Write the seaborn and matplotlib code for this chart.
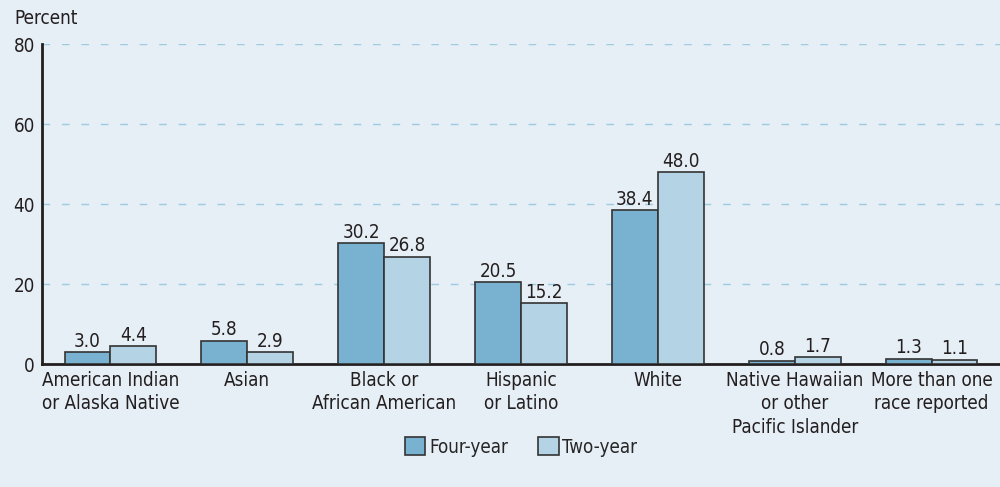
import matplotlib
matplotlib.use("Agg")
import matplotlib.pyplot as plt
import pandas as pd
import seaborn as sns

# --- Data -----------------------------------------------------------------
categories = [
    "American Indian\nor Alaska Native",
    "Asian",
    "Black or\nAfrican American",
    "Hispanic\nor Latino",
    "White",
    "Native Hawaiian\nor other\nPacific Islander",
    "More than one\nrace reported",
]
four_year = [3.0, 5.8, 30.2, 20.5, 38.4, 0.8, 1.3]
two_year = [4.4, 2.9, 26.8, 15.2, 48.0, 1.7, 1.1]
series_names = ["Four-year", "Two-year"]
y_ticks = [0, 20, 40, 60, 80]

BG = "#E6EEF6"
COLORS = ["#78B2D0", "#B4D4E5"]
EDGE = "#333333"
TXT = "#231F20"
FS = 13.5

df = pd.DataFrame({
    "category": categories * 2,
    "value": four_year + two_year,
    "type": [series_names[0]] * len(categories) + [series_names[1]] * len(categories),
})

sns.set_style("white")
plt.rcParams["font.family"] = ["DejaVu Sans"]
plt.rcParams["font.stretch"] = "condensed"

fig = plt.figure(figsize=(10, 4.87), dpi=100, facecolor=BG)
ax = fig.add_axes([0.042, 123 / 487, 0.958, 320 / 487])
ax.set_facecolor(BG)

sns.barplot(data=df, x="category", y="value", hue="type",
            palette=COLORS, width=0.67, edgecolor=EDGE, linewidth=1.2,
            saturation=1, ax=ax, legend=True, zorder=3)

for cont in ax.containers:
    ax.bar_label(cont, fmt="%.1f", padding=1, fontsize=FS, color=TXT)

ax.set_xlim(-0.5, 6.5)
ax.set_ylim(0, 80)
ax.set_yticks(y_ticks)
ax.set_yticklabels([str(t) for t in y_ticks], fontsize=FS, color=TXT)
ax.set_xticks(range(len(categories)))
ax.set_xticklabels(categories, fontsize=FS, color=TXT, linespacing=1.3)
ax.tick_params(axis="x", length=0, pad=5)
ax.tick_params(axis="y", length=0, pad=5)
ax.set_xlabel("")
ax.set_ylabel("")

for t in y_ticks[1:]:
    ax.axhline(t, color="#9CCBE2", linestyle=(0, (5.5, 8.5)), linewidth=1.0, zorder=1)

for side in ["top", "right"]:
    ax.spines[side].set_visible(False)
for side in ["left", "bottom"]:
    ax.spines[side].set_linewidth(2)
    ax.spines[side].set_color(TXT)

fig.text(0.014, 1 - 18 / 487, "Percent", fontsize=FS, color=TXT, va="center")

handles, labels = ax.get_legend_handles_labels()
ax.legend(handles, labels, loc="center", bbox_to_anchor=(0.5, -0.259),
          ncol=2, frameon=False, fontsize=FS, handlelength=1.1, handleheight=1.1,
          handletextpad=0.2, columnspacing=1.6)

fig.savefig("out.png", dpi=100, facecolor=BG)
